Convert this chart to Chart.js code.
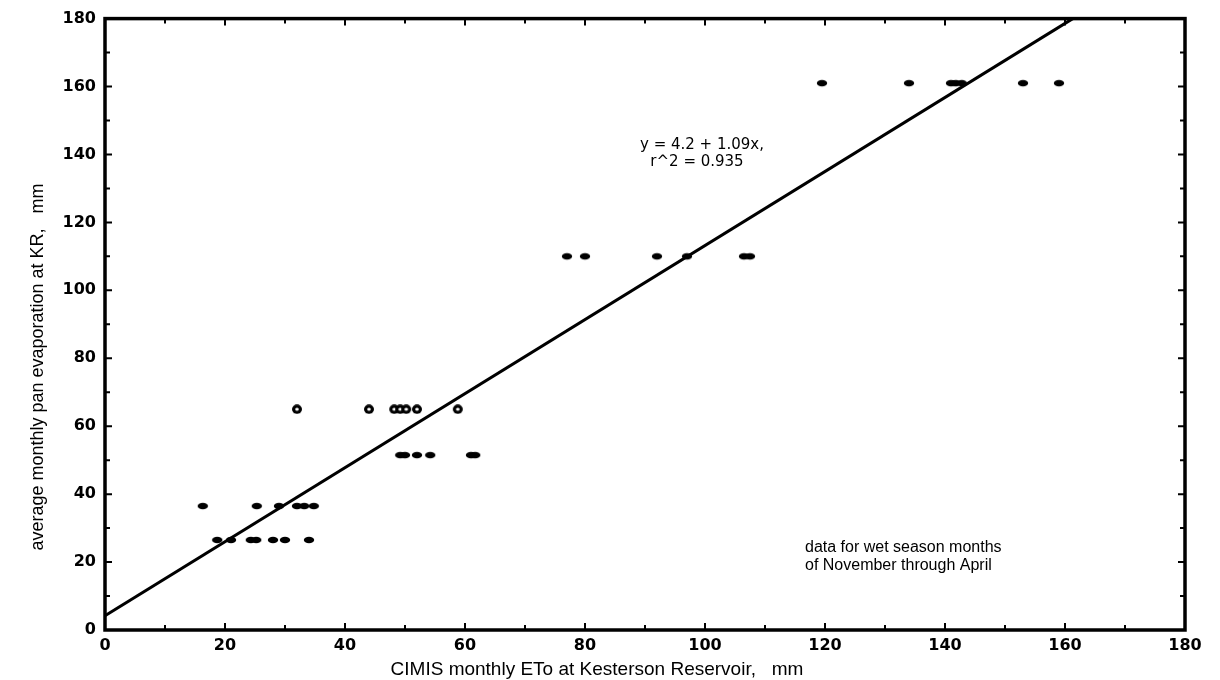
<!DOCTYPE html>
<html>
<head>
<meta charset="utf-8">
<script src="https://cdn.jsdelivr.net/npm/chart.js@4.4.1/dist/chart.umd.min.js"></script>
<style>
  html, body { margin: 0; padding: 0; background: #fff; }
  #wrap { width: 1220px; height: 680px; position: relative; }
</style>
</head>
<body>
<div id="wrap"><canvas id="chart"></canvas></div>
<script>
// Average monthly pan evaporation at KR (one level per wet-season month)
const panMonthly = [26.5, 36.5, 51.5, 65, 110, 161];

// CIMIS monthly ETo values for each month level
const etoMonth1 = [18.7, 21.0, 24.3, 25.2, 28.0, 30.0, 34.0];
const etoMonth2 = [16.3, 25.3, 29.0, 32.0, 33.2, 34.8];
const etoMonth3 = [49.2, 50.0, 52.0, 54.2, 61.0, 61.7];
const etoMonth4 = [32.0, 44.0, 48.2, 49.2, 50.2, 52.0, 58.8];
const etoMonth5 = [77.0, 80.0, 92.0, 97.0, 106.5, 107.5];
const etoMonth6 = [119.5, 134.0, 141.0, 141.8, 142.8, 153.0, 159.0];

// fitted regression
const intercept = 4.2;
const slope = 1.09;

const xTicks = [0, 20, 40, 60, 80, 100, 120, 140, 160, 180];
const yTicks = [0, 20, 40, 60, 80, 100, 120, 140, 160, 180];

const etoGroups = [etoMonth1, etoMonth2, etoMonth3, etoMonth4, etoMonth5, etoMonth6];

function makeDot(ring) {
    const c = document.createElement('canvas');
    c.width = 12; c.height = 10;
    const g = c.getContext('2d');
    g.fillStyle = '#000';
    g.beginPath();
    if (ring) {
        g.ellipse(6, 5, 5, 4.7, 0, 0, Math.PI * 2);
        g.fill();
        g.fillStyle = '#fff';
        g.beginPath();
        g.ellipse(6, 5, 1.8, 1.6, 0, 0, Math.PI * 2);
    } else {
        g.ellipse(6, 5, 5.2, 3.3, 0, 0, Math.PI * 2);
    }
    g.fill();
    return c;
}
const solidDot = makeDot(false);
const ringDot = makeDot(true);

const scatterSets = etoGroups.map(function(group, i) {
    return {
        type: 'scatter',
        data: group.map(x => ({ x: x, y: panMonthly[i] })),
        pointStyle: i === 3 ? ringDot : solidDot,
        pointRadius: 5,
        order: 2
    };
});

const xEnd = (180 - intercept) / slope;
const fitLine = {
    type: 'line',
    data: [{ x: 0, y: intercept }, { x: xEnd, y: intercept + slope * xEnd }],
    borderColor: '#000',
    borderWidth: 3,
    pointRadius: 0,
    fill: false,
    order: 1
};

// frame, inward ticks and text notes
const decorPlugin = {
    id: 'decor',
    afterDatasetsDraw(chart) {
        const ctx = chart.ctx;
        const a = chart.chartArea;
        const xs = chart.scales.x, ys = chart.scales.y;
        ctx.save();
        ctx.strokeStyle = '#000';
        ctx.lineWidth = 2;
        for (let v = 10; v < 180; v += 10) {
            const len = v % 20 === 0 ? 7 : 5;
            const px = xs.getPixelForValue(v);
            const py = ys.getPixelForValue(v);
            ctx.beginPath();
            ctx.moveTo(px, a.bottom); ctx.lineTo(px, a.bottom - len);
            ctx.moveTo(px, a.top); ctx.lineTo(px, a.top + len);
            ctx.moveTo(a.left, py); ctx.lineTo(a.left + len, py);
            ctx.moveTo(a.right, py); ctx.lineTo(a.right - len, py);
            ctx.stroke();
        }
        ctx.lineWidth = 3.5;
        ctx.strokeRect(a.left, a.top, a.right - a.left, a.bottom - a.top);

        ctx.fillStyle = '#000';
        ctx.font = '15px "DejaVu Sans", sans-serif';
        ctx.textAlign = 'center';
        ctx.textBaseline = 'middle';
        ctx.fillText('y = 4.2 + 1.09x,', 702, 145);
        ctx.fillText('r^2 = 0.935', 697, 162);
        ctx.font = '16px "Liberation Sans", Arial, sans-serif';
        ctx.textAlign = 'left';
        ctx.fillText('data for wet season months', 805, 548);
        ctx.fillText('of November through April', 805, 566);

        ctx.font = '19px "Liberation Sans", Arial, sans-serif';
        ctx.textAlign = 'center';
        ctx.fillText('CIMIS monthly ETo at Kesterson Reservoir,   mm', 597, 670);
        ctx.font = '18px "Liberation Sans", Arial, sans-serif';
        ctx.translate(38, 367);
        ctx.rotate(-Math.PI / 2);
        ctx.fillText('average monthly pan evaporation at KR,   mm', 0, 0);
        ctx.restore();
    }
};

const tickFont = { family: '"DejaVu Sans", sans-serif', size: 16, weight: 'bold' };

new Chart(document.getElementById('chart'), {
    data: { datasets: scatterSets.concat([fitLine]) },
    options: {
        responsive: true,
        maintainAspectRatio: false,
        animation: false,
        layout: { padding: { left: 0, top: 18, right: 35, bottom: 0 } },
        plugins: {
            legend: { display: false },
            tooltip: { enabled: false }
        },
        scales: {
            x: {
                type: 'linear',
                min: 0, max: 180,
                afterFit(scale) { scale.height = 50; },
                afterBuildTicks(scale) { scale.ticks = xTicks.map(v => ({ value: v })); },
                grid: { display: false, drawTicks: false },
                border: { display: false },
                ticks: { color: '#000', font: tickFont, padding: 6, maxRotation: 0 }
            },
            y: {
                type: 'linear',
                min: 0, max: 180,
                afterFit(scale) { scale.width = 105; },
                afterBuildTicks(scale) { scale.ticks = yTicks.map(v => ({ value: v })); },
                grid: { display: false, drawTicks: false },
                border: { display: false },
                ticks: { color: '#000', font: tickFont, padding: 9 }
            }
        }
    },
    plugins: [decorPlugin]
});
</script>
</body>
</html>
